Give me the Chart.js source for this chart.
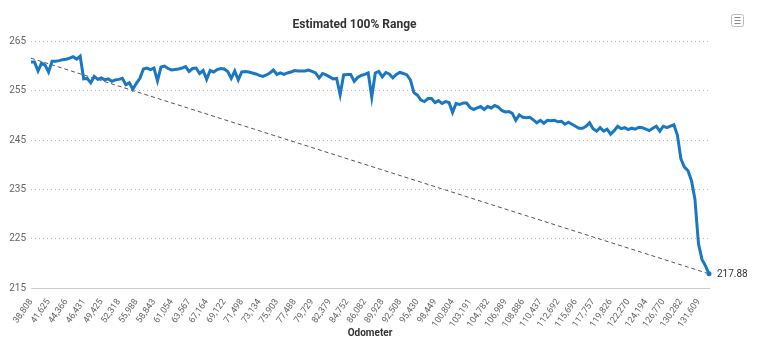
<!DOCTYPE html>
<html>
<head>
<meta charset="utf-8">
<script src="https://cdn.jsdelivr.net/npm/chart.js@4.4.1/dist/chart.umd.min.js"></script>
<style>
  html, body { margin: 0; padding: 0; background: #fff; }
  #wrap { width: 764px; height: 348px; position: relative; }
</style>
</head>
<body>
<div id="wrap"><canvas id="rangeChart"></canvas></div>
<script>
// Odometer tick labels (one every 5 readings)
const odometerTicks = ['38,808', '41,625', '44,366', '46,431', '49,425', '52,318', '55,988', '58,843',
    '61,054', '63,567', '67,164', '69,122', '71,498', '73,134', '75,903', '77,488', '79,729', '82,379',
    '84,752', '86,082', '89,928', '92,508', '95,430', '98,449', '100,804', '103,191', '104,782', '106,989',
    '108,886', '110,437', '112,692', '115,696', '117,757', '119,826', '122,270', '124,194', '126,770',
    '130,282', '131,609'];
const ticksEvery = 5;

// Estimated 100% range readings
const rangeValues = [
    260.8, 260.8, 259.0, 260.6, 260.2, 258.8, 261.0, 261.0, 261.1, 261.3, 261.4, 261.6, 261.9, 261.4, 262.0,
    257.4, 257.5, 256.6, 257.9, 257.3, 257.6, 257.2, 257.4, 256.9, 257.2, 257.3, 257.5, 256.2, 256.6, 255.3,
    256.5, 257.5, 259.4, 259.6, 259.3, 259.6, 257.0, 259.8, 260.0, 259.5, 259.2, 259.3, 259.4, 259.6, 259.9,
    258.9, 259.5, 259.6, 258.5, 259.1, 257.3, 259.1, 258.8, 259.3, 259.5, 259.4, 258.9, 257.5, 259.0, 257.2,
    258.8, 258.9, 258.8, 258.6, 258.4, 258.1, 257.9, 258.2, 258.6, 259.2, 258.3, 258.6, 258.3, 258.6, 258.8,
    259.1, 259.0, 259.0, 259.0, 259.2, 258.9, 258.6, 257.6, 258.5, 258.2, 257.8, 257.4, 257.5, 254.2, 258.2,
    258.3, 258.3, 256.9, 257.7, 258.1, 258.3, 258.6, 253.7, 258.6, 258.9, 257.8, 258.7, 258.4, 257.6, 258.3,
    258.7, 258.5, 258.2, 257.2, 254.6, 254.1, 253.1, 252.8, 253.4, 253.4, 252.6, 253.0, 252.4, 252.8, 252.6,
    250.6, 252.4, 252.2, 252.5, 252.5, 251.6, 251.2, 251.5, 251.8, 251.2, 251.8, 251.5, 252.0, 251.7, 251.0,
    250.7, 250.8, 250.4, 249.0, 250.1, 249.6, 249.5, 249.6, 249.1, 248.5, 249.0, 248.4, 249.0, 248.9, 249.0,
    248.7, 248.8, 248.2, 248.6, 248.2, 247.8, 247.4, 247.4, 247.8, 248.5, 247.3, 246.8, 247.5, 246.8, 247.2,
    246.2, 246.9, 247.8, 247.3, 247.5, 247.1, 247.4, 247.2, 247.6, 247.5, 247.2, 246.9, 247.4, 247.8, 246.8,
    247.8, 247.5, 247.8, 248.1, 246.0, 241.2, 239.5, 238.8, 236.8, 233.0, 224.0, 220.8, 219.5, 217.88
];

// Trend line end points
const trendStart = 261.6;
const trendEnd = 217.88;

const lastIdx = rangeValues.length - 1;
const labels = rangeValues.map((v, i) => (i % ticksEvery === 0 && odometerTicks[i / ticksEvery]) || '');
const trendValues = rangeValues.map((v, i) => i === 0 ? trendStart : (i === lastIdx ? trendEnd : null));

// last value label + export menu icon
const extrasPlugin = {
    id: 'extras',
    afterDatasetsDraw(chart) {
        const ctx = chart.ctx;
        const pt = chart.getDatasetMeta(0).data[lastIdx];
        ctx.save();
        ctx.font = "10px Roboto";
        ctx.fillStyle = '#333';
        ctx.textBaseline = 'middle';
        ctx.fillText(rangeValues[lastIdx].toFixed(2), pt.x + 8, pt.y + 1);

        // hamburger button
        ctx.strokeStyle = '#bbb';
        ctx.lineWidth = 1;
        ctx.beginPath();
        ctx.roundRect(731.5, 14.5, 12, 12, 2);
        ctx.stroke();
        ctx.strokeStyle = '#888';
        [17.5, 20.5, 23.5].forEach(y => {
            ctx.beginPath();
            ctx.moveTo(734.5, y);
            ctx.lineTo(740.5, y);
            ctx.stroke();
        });
        ctx.restore();
    }
};

const ctx = document.getElementById('rangeChart').getContext('2d');
new Chart(ctx, {
    type: 'line',
    data: {
        labels: labels,
        datasets: [{
            label: 'Estimated 100% Range',
            data: rangeValues,
            borderColor: '#1a78c2',
            borderWidth: 3,
            pointRadius: rangeValues.map((v, i) => i === lastIdx ? 2.5 : 0),
            pointBackgroundColor: '#1a78c2',
            pointBorderWidth: 0,
            tension: 0,
            clip: 6,
            order: 1
        }, {
            label: 'Trend',
            data: trendValues,
            borderColor: '#555',
            borderWidth: 1,
            borderDash: [4, 3],
            pointRadius: 0,
            spanGaps: true,
            order: 2
        }]
    },
    plugins: [extrasPlugin],
    options: {
        responsive: true,
        maintainAspectRatio: false,
        animation: false,
        layout: { padding: { left: 0, right: 55, top: 0, bottom: 0 } },
        plugins: {
            legend: { display: false },
            tooltip: { enabled: false },
            title: {
                display: true,
                text: 'Estimated 100% Range',
                color: '#333',
                font: { family: 'Roboto', size: 12, weight: 'bold' },
                padding: { top: 18, bottom: 9 }
            }
        },
        scales: {
            x: {
                grid: { display: false },
                border: { display: true, color: '#ccc' },
                ticks: {
                    autoSkip: false,
                    maxRotation: 55,
                    minRotation: 55,
                    padding: 1,
                    color: '#666',
                    font: { family: 'Roboto', size: 9 }
                },
                title: {
                    display: true,
                    text: 'Odometer',
                    color: '#333',
                    font: { family: 'Roboto', size: 10, weight: 'bold' },
                    padding: { top: 0, bottom: 9 }
                },
                afterFit(scale) { scale.height = 60; }
            },
            y: {
                min: 215,
                max: 265,
                grid: { color: '#bbb', drawTicks: false },
                border: { display: false, dash: [1, 3] },
                ticks: {
                    stepSize: 10,
                    padding: 5,
                    color: '#666',
                    font: { family: 'Roboto', size: 10 }
                },
                afterFit(scale) { scale.width = 31; }
            }
        }
    }
});
</script>
</body>
</html>
